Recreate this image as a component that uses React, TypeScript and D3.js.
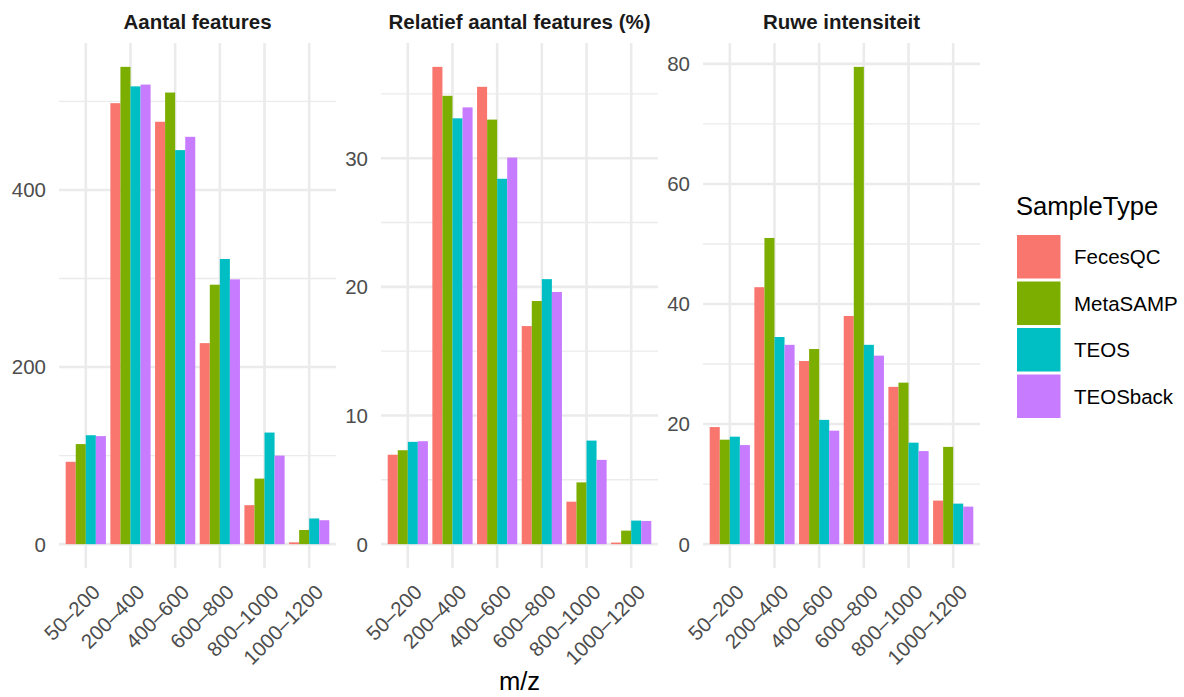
import React from "react";
import * as d3 from "d3";

// m/z bins and sample types
const categories = ["50–200", "200–400", "400–600", "600–800", "800–1000", "1000–1200"];
const sampleTypes = ["FecesQC", "MetaSAMP", "TEOS", "TEOSback"];
const colors = ["#F8766D", "#7CAE00", "#00BFC4", "#C77CFF"];

// Aantal features (counts per bin)
const countFecesQC = [93, 498, 477, 227, 44, 2];
const countMetaSAMP = [113, 539, 510, 293, 74, 16];
const countTEOS = [123, 517, 445, 322, 126, 29];
const countTEOSback = [122, 519, 460, 299, 100, 27];

// Relatief aantal features (%)
const relFecesQC = [6.95, 37.1, 35.55, 16.95, 3.3, 0.12];
const relMetaSAMP = [7.3, 34.85, 33.0, 18.9, 4.8, 1.05];
const relTEOS = [7.95, 33.1, 28.4, 20.6, 8.05, 1.83];
const relTEOSback = [8.0, 33.95, 30.05, 19.6, 6.55, 1.8];

// Ruwe intensiteit
const intFecesQC = [19.5, 42.8, 30.5, 38.0, 26.2, 7.25];
const intMetaSAMP = [17.4, 51.0, 32.5, 79.5, 26.9, 16.2];
const intTEOS = [17.9, 34.5, 20.7, 33.2, 16.9, 6.75];
const intTEOSback = [16.5, 33.2, 18.9, 31.4, 15.5, 6.25];

const panelTitles = ["Aantal features", "Relatief aantal features (%)", "Ruwe intensiteit"];
const majorTicks = [
  [0, 200, 400],
  [0, 10, 20, 30],
  [0, 20, 40, 60, 80],
];
const minorTicks = [
  [100, 300, 500],
  [5, 15, 25, 35],
  [10, 30, 50, 70],
];

const panels = [
  { title: panelTitles[0], series: [countFecesQC, countMetaSAMP, countTEOS, countTEOSback], major: majorTicks[0], minor: minorTicks[0] },
  { title: panelTitles[1], series: [relFecesQC, relMetaSAMP, relTEOS, relTEOSback], major: majorTicks[1], minor: minorTicks[1] },
  { title: panelTitles[2], series: [intFecesQC, intMetaSAMP, intTEOS, intTEOSback], major: majorTicks[2], minor: minorTicks[2] },
];

const W = 1184;
const H = 697;
const FONT = "'Liberation Sans', Arial, Helvetica, sans-serif";
const GRID = "#EBEBEB";

const panelLefts = [59, 381, 703];
const panelWidth = 277;
const top = 43;
const bottom = 568;

function Panel({ p, left }: { p: (typeof panels)[number]; left: number }) {
  const right = left + panelWidth;
  const x = d3.scalePoint<string>().domain(categories).range([left, right]).padding(0.6);
  const step = x.step();
  const inner = d3.scaleBand<string>().domain(sampleTypes).range([-0.45 * step, 0.45 * step]).padding(0);
  const maxV = d3.max(p.series.flat()) as number;
  const y = d3.scaleLinear().domain([-0.05 * maxV, 1.05 * maxV]).range([bottom, top]);

  return (
    <g>
      {p.minor.map((t) => (
        <line key={"mi" + t} x1={left} x2={right} y1={y(t)} y2={y(t)} stroke={GRID} strokeWidth={1.4} />
      ))}
      {p.major.map((t) => (
        <line key={"ma" + t} x1={left} x2={right} y1={y(t)} y2={y(t)} stroke={GRID} strokeWidth={2.6} />
      ))}
      {categories.map((c) => (
        <line key={"v" + c} x1={x(c)} x2={x(c)} y1={top} y2={bottom} stroke={GRID} strokeWidth={2.6} />
      ))}
      {p.series.map((vals, si) =>
        vals.map((v, ci) => {
          const cx = (x(categories[ci]) as number) + (inner(sampleTypes[si]) as number);
          return (
            <rect
              key={si + "-" + ci}
              x={cx}
              y={y(v)}
              width={inner.bandwidth()}
              height={y(0) - y(v)}
              fill={colors[si]}
            />
          );
        })
      )}
      {p.major.map((t) => (
        <text
          key={"yl" + t}
          x={left - 13}
          y={y(t)}
          dy="0.36em"
          textAnchor="end"
          fontSize={20.5}
          fill="#4D4D4D"
          fontFamily={FONT}
        >
          {t}
        </text>
      ))}
      {categories.map((c) => (
        <text
          key={"xl" + c}
          transform={`translate(${(x(c) as number) + 5},${bottom + 15}) rotate(-45)`}
          dy="0.72em"
          textAnchor="end"
          fontSize={20.5}
          fill="#4D4D4D"
          fontFamily={FONT}
        >
          {c}
        </text>
      ))}
      <text
        x={(left + right) / 2}
        y={29}
        textAnchor="middle"
        fontSize={20.5}
        fontWeight="bold"
        fill="#1A1A1A"
        fontFamily={FONT}
      >
        {p.title}
      </text>
    </g>
  );
}

export default function App() {
  const legendX = 1017;
  const legendY = 235;
  const keySize = 43.5;
  const keyStep = 46.5;
  return (
    <svg width={W} height={H} style={{ position: "absolute", left: 0, top: 0, background: "#fff" }}>
      <rect width={W} height={H} fill="#fff" />
      {panels.map((p, i) => (
        <Panel key={p.title} p={p} left={panelLefts[i]} />
      ))}
      <text x={519.5} y={690} textAnchor="middle" fontSize={25.6} fill="#000" fontFamily={FONT}>
        m/z
      </text>
      <text x={legendX - 1} y={215} fontSize={25.6} fill="#000" fontFamily={FONT}>
        SampleType
      </text>
      {sampleTypes.map((s, i) => (
        <g key={s}>
          <rect x={legendX} y={legendY + i * keyStep} width={keySize} height={keySize} fill={colors[i]} />
          <text
            x={1074}
            y={legendY + i * keyStep + keySize / 2}
            dy="0.36em"
            fontSize={20.5}
            fill="#000"
            fontFamily={FONT}
          >
            {s}
          </text>
        </g>
      ))}
    </svg>
  );
}
